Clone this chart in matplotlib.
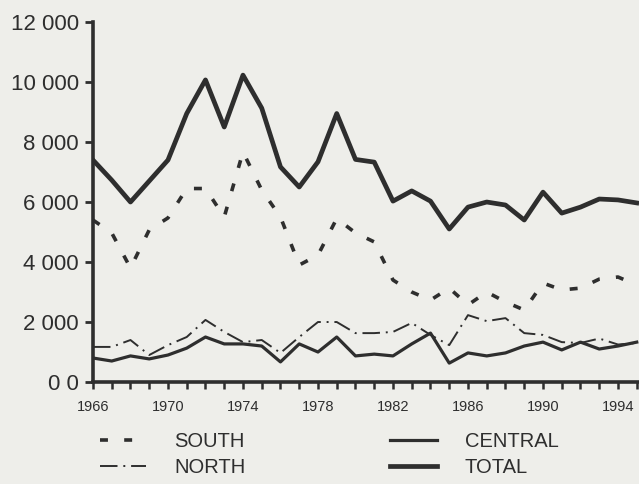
import numpy as np
import matplotlib.pyplot as plt
from matplotlib.ticker import FixedLocator, MultipleLocator

plt.rcParams['font.family'] = ['Liberation Sans', 'DejaVu Sans']

# yearly figures, 1966-1995
years = np.arange(1966, 1996)
south = [5400, 4970, 3800, 5070, 5470, 6450, 6450, 5500, 7670, 6400,
         5500, 3900, 4230, 5450, 4970, 4670, 3400, 3000, 2730, 3130,
         2570, 3000, 2670, 2400, 3300, 3070, 3130, 3430, 3500, 3230]
north = [1170, 1170, 1400, 900, 1230, 1500, 2070, 1670, 1330, 1400,
         970, 1500, 2000, 2000, 1630, 1630, 1670, 1970, 1570, 1230,
         2230, 2030, 2130, 1630, 1570, 1330, 1300, 1450, 1250, 1300]
central = [800, 700, 870, 770, 900, 1130, 1500, 1270, 1270, 1200,
           670, 1270, 1000, 1500, 870, 930, 870, 1270, 1630, 630,
           970, 870, 970, 1200, 1330, 1070, 1330, 1100, 1200, 1330]
total = [7400, 6730, 6000, 6700, 7400, 8950, 10070, 8500, 10230, 9130,
         7170, 6500, 7340, 8950, 7420, 7330, 6030, 6370, 6030, 5100,
         5830, 6000, 5900, 5400, 6330, 5630, 5830, 6100, 6070, 5970]

yticks = [0, 2000, 4000, 6000, 8000, 10000, 12000]
ylabels = ['0 0', '2 000', '4 000', '6 000', '8 000', '10 000', '12 000']
xticks = [1966, 1970, 1974, 1978, 1982, 1986, 1990, 1994]

bg = '#eeeeea'
ink = '#2e2e2e'

fig = plt.figure(figsize=(6.39, 4.84), dpi=100, facecolor=bg)
ax = fig.add_axes([0.1455, 0.2107, 0.8545, 0.7438], facecolor=bg)

l_s, = ax.plot(years, south, color=ink, lw=2.6, dashes=(2.2, 4.5), label='SOUTH')
l_n, = ax.plot(years, north, color=ink, lw=1.4, dashes=(9, 3, 1, 3), label='NORTH')
l_c, = ax.plot(years, central, color=ink, lw=2.3, label='CENTRAL')
l_t, = ax.plot(years, total, color=ink, lw=3.4, label='TOTAL')

ax.set_xlim(1966, 1995.12)
ax.set_ylim(0, 12000)

ax.spines['top'].set_visible(False)
ax.spines['right'].set_visible(False)
for s in ('left', 'bottom'):
    ax.spines[s].set_linewidth(2.6)
    ax.spines[s].set_color(ink)

ax.yaxis.set_major_locator(FixedLocator(yticks))
ax.set_yticklabels(ylabels, fontsize=16, color=ink)
ax.tick_params(axis='y', length=6, width=2, color=ink, pad=4)

ax.xaxis.set_major_locator(FixedLocator(xticks))
ax.xaxis.set_minor_locator(MultipleLocator(1))
ax.set_xticklabels([str(x) for x in xticks], fontsize=10.5, color=ink)
ax.tick_params(axis='x', which='both', length=5, width=1.8, color=ink, pad=8)

fig.legend(handles=[l_s, l_n, l_c, l_t], loc='upper left',
           bbox_to_anchor=(0.1275, 0.144), ncol=2, frameon=False,
           fontsize=14.5, handlelength=2.3, columnspacing=7.2,
           handletextpad=1.4, labelspacing=0.35, labelcolor=ink)

fig.savefig('out.png', dpi=100, facecolor=bg)
